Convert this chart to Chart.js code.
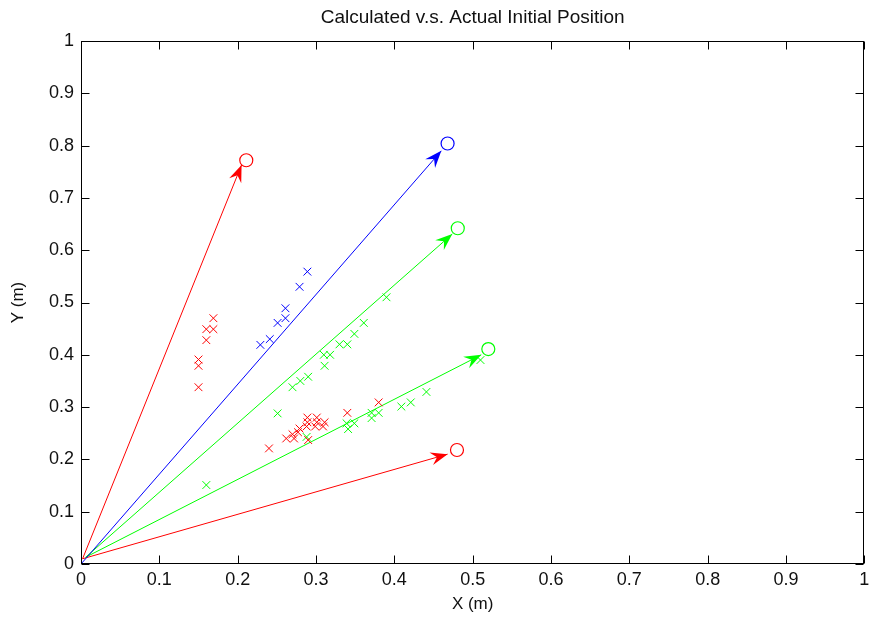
<!DOCTYPE html>
<html><head><meta charset="utf-8">
<script src="https://cdn.jsdelivr.net/npm/chart.js@4/dist/chart.umd.min.js"></script>
<style>html,body{margin:0;padding:0;background:#fff}canvas{display:block}</style>
</head><body>
<canvas id="c" width="872" height="620"></canvas>
<script>
// ---- data ----
const tickValues = [0, 0.1, 0.2, 0.3, 0.4, 0.5, 0.6, 0.7, 0.8, 0.9, 1];

// calculated positions (x markers)
const redCalcX = [0.169,0.160,0.169,0.160,0.150,0.150,0.150,0.240,0.262,0.272,0.270,0.277,0.279,0.288,0.299,0.309,0.289,0.301,0.311,0.289,0.301,0.290,0.340,0.380];
const redCalcY = [0.470,0.449,0.449,0.428,0.391,0.379,0.338,0.221,0.240,0.240,0.248,0.252,0.259,0.263,0.263,0.263,0.271,0.271,0.271,0.280,0.280,0.237,0.289,0.309];
const greenCalcX = [0.160,0.251,0.270,0.280,0.290,0.311,0.310,0.318,0.330,0.340,0.349,0.361,0.390,0.288,0.339,0.341,0.349,0.371,0.371,0.380,0.409,0.421,0.441,0.510];
const greenCalcY = [0.151,0.288,0.338,0.350,0.358,0.379,0.400,0.400,0.420,0.420,0.440,0.461,0.510,0.243,0.269,0.258,0.269,0.289,0.279,0.289,0.301,0.309,0.329,0.390];
const blueCalcX = [0.289,0.279,0.261,0.261,0.251,0.241,0.229];
const blueCalcY = [0.559,0.530,0.489,0.470,0.461,0.430,0.419];

// arrows (order: red upper, blue, green upper, green lower, red lower)
const arrowStartX = [0.002, 0.000, 0.006, 0.006, 0.002];
const arrowStartY = [0.010, 0.000, 0.013, 0.013, 0.010];
const arrowEndX   = [0.205, 0.460, 0.474, 0.511, 0.468];
const arrowEndY   = [0.763, 0.790, 0.631, 0.400, 0.210];

// actual initial positions (circles)
const actualX = [0.211, 0.468, 0.481, 0.520, 0.480];
const actualY = [0.772, 0.804, 0.642, 0.411, 0.218];

// ---- styling ----
const arrowColors = ['#ff0000', '#0000ff', '#00ff00', '#00ff00', '#ff0000'];
const FONT = '"Liberation Sans", Arial, Helvetica, sans-serif';
const TXT = '#111';

const pts = (xs, ys) => xs.map((x, i) => ({x, y: ys[i]}));
const fmt = v => String(Math.round(v * 10) / 10);

const datasets = [];
arrowStartX.forEach((sx, i) => {
  datasets.push({
    data: [{x: sx, y: arrowStartY[i]}, {x: arrowEndX[i], y: arrowEndY[i]}],
    showLine: true, borderColor: arrowColors[i], borderWidth: 1,
    pointRadius: 0, arrowHead: true, order: 2
  });
});
const crossStyle = {pointStyle: 'crossRot', pointRadius: 5.5, borderWidth: 1, showLine: false, order: 1};
datasets.push(Object.assign({data: pts(redCalcX, redCalcY), borderColor: '#ff0000'}, crossStyle));
datasets.push(Object.assign({data: pts(greenCalcX, greenCalcY), borderColor: '#00ff00'}, crossStyle));
datasets.push(Object.assign({data: pts(blueCalcX, blueCalcY), borderColor: '#0000ff'}, crossStyle));
actualX.forEach((ax, i) => {
  datasets.push({data: [{x: ax, y: actualY[i]}], pointStyle: 'circle', pointRadius: 6.5,
    borderColor: arrowColors[i], backgroundColor: 'rgba(0,0,0,0)', borderWidth: 1.2, showLine: false, order: 1});
});

const arrowPlugin = {
  id: 'arrowHeads',
  afterDatasetsDraw(chart) {
    const ctx = chart.ctx;
    chart.data.datasets.forEach((ds, i) => {
      if (!ds.arrowHead) return;
      const meta = chart.getDatasetMeta(i);
      const a = meta.data[0], b = meta.data[1];
      const dx = b.x - a.x, dy = b.y - a.y;
      const len = Math.hypot(dx, dy);
      const ux = dx / len, uy = dy / len;
      const px = -uy, py = ux;
      const L = 17, W = 6.5, N = 11;
      ctx.save();
      ctx.fillStyle = ds.borderColor;
      ctx.beginPath();
      ctx.moveTo(b.x, b.y);
      ctx.lineTo(b.x - ux * L + px * W, b.y - uy * L + py * W);
      ctx.lineTo(b.x - ux * N, b.y - uy * N);
      ctx.lineTo(b.x - ux * L - px * W, b.y - uy * L - py * W);
      ctx.closePath();
      ctx.fill();
      ctx.restore();
    });
  }
};

const boxPlugin = {
  id: 'matlabBox',
  afterDraw(chart) {
    const {ctx, chartArea: ca, scales} = chart;
    const T = 8;
    ctx.save();
    ctx.strokeStyle = '#000';
    ctx.lineWidth = 1;
    const l = Math.round(ca.left) + 0.5, r = Math.round(ca.right) - 0.5;
    const t = Math.round(ca.top) + 0.5, b = Math.round(ca.bottom) - 0.5;
    ctx.strokeRect(l, t, r - l, b - t);
    ctx.beginPath();
    tickValues.forEach(v => {
      const x = Math.round(scales.x.getPixelForValue(v)) + 0.5;
      ctx.moveTo(x, b); ctx.lineTo(x, b - T);
      ctx.moveTo(x, t); ctx.lineTo(x, t + T);
      const y = Math.round(scales.y.getPixelForValue(v)) + 0.5;
      ctx.moveTo(l, y); ctx.lineTo(l + T, y);
      ctx.moveTo(r, y); ctx.lineTo(r - T, y);
    });
    ctx.stroke();
    ctx.restore();
  }
};

const zeroPad = s => { s.paddingLeft = 0; s.paddingRight = 0; s.paddingTop = 0; s.paddingBottom = 0; };

new Chart(document.getElementById('c'), {
  type: 'scatter',
  data: {datasets},
  plugins: [arrowPlugin, boxPlugin],
  options: {
    responsive: false,
    animation: false,
    layout: {padding: {left: 0, right: 5, top: 0, bottom: 0}},
    plugins: {
      legend: {display: false},
      tooltip: {enabled: false},
      title: {
        display: true, fullSize: false,
        text: 'Calculated v.s. Actual Initial Position',
        color: TXT, font: {family: FONT, size: 19, weight: 'normal', lineHeight: 1.2},
        padding: {top: 6.6, bottom: 11.6}
      }
    },
    scales: {
      x: {
        type: 'linear', min: 0, max: 1,
        afterBuildTicks(s) { s.ticks = tickValues.map(v => ({value: v})); },
        ticks: {color: TXT, font: {family: FONT, size: 18}, padding: 5, maxRotation: 0, autoSkip: false, callback: fmt},
        grid: {display: false, drawTicks: false},
        border: {display: false},
        title: {display: true, text: 'X (m)', color: TXT, font: {family: FONT, size: 17, lineHeight: 1.2}, padding: {top: 0, bottom: 5}},
        afterFit(s) { s.height = 56; zeroPad(s); }
      },
      y: {
        type: 'linear', min: 0, max: 1,
        afterBuildTicks(s) { s.ticks = tickValues.map(v => ({value: v})); },
        ticks: {color: TXT, font: {family: FONT, size: 18}, padding: 7, autoSkip: false, callback: fmt},
        grid: {display: false, drawTicks: false},
        border: {display: false},
        title: {display: true, text: 'Y (m)', color: TXT, font: {family: FONT, size: 17, lineHeight: 1.2}, padding: {top: 8, bottom: 0}},
        afterFit(s) { s.width = 81; zeroPad(s); }
      }
    }
  }
});
</script>
</body></html>
